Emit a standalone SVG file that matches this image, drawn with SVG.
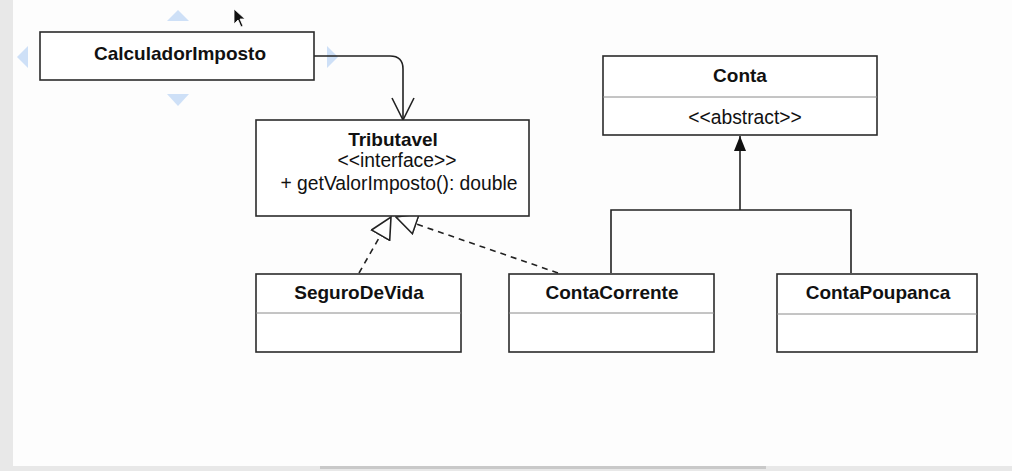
<svg xmlns="http://www.w3.org/2000/svg" width="1012" height="471" viewBox="0 0 1012 471">
  <style>
    .box { fill: #ffffff; stroke: #2b2b2b; stroke-width: 1.6; }
    .div { stroke: #8a8a8a; stroke-width: 1; fill: none; }
    .b { font-family: "Liberation Sans", Arial, sans-serif; font-weight: bold; font-size: 19px; fill: #111; text-anchor: middle; }
    .r { font-family: "Liberation Sans", Arial, sans-serif; font-size: 19.3px; fill: #111; text-anchor: middle; }
    .edge { fill: none; stroke: #222; stroke-width: 1.6; }
    .dash { fill: none; stroke: #222; stroke-width: 1.6; stroke-dasharray: 6 5; }
    .sel { fill: #c6dbf6; opacity: 0.85; }
  </style>
  <defs>
    <marker id="hollowTri" viewBox="0 0 23 23" refX="22" refY="11.5" markerWidth="23" markerHeight="23" markerUnits="userSpaceOnUse" orient="auto">
      <path d="M1,1 L22,11.5 L1,22 Z" fill="#ffffff" stroke="#222" stroke-width="1.6"/>
    </marker>
    <marker id="filledTri" viewBox="0 0 16 14" refX="15" refY="7" markerWidth="16" markerHeight="14" markerUnits="userSpaceOnUse" orient="auto">
      <path d="M0,1 L15,7 L0,13 Z" fill="#111"/>
    </marker>
  </defs>

  <!-- background -->
  <rect x="0" y="0" width="1012" height="471" fill="#fdfdfd"/>
  <rect x="0" y="0" width="13" height="471" fill="#e8e8e8"/>
  <rect x="0" y="466" width="1012" height="5" fill="#e8e8e8"/>
  <rect x="320" y="466" width="446" height="3" fill="#c9c9c9"/>

  <!-- selection handles -->
  <g id="selection-handles">
    <polygon class="sel" points="178,10 189,21 167,21"/>
    <polygon class="sel" points="178,106 189,94 167,94"/>
    <polygon class="sel" points="17,57 28,46 28,68"/>
    <polygon class="sel" points="338,57 327,46 327,68"/>
  </g>

  <!-- connectors -->
  <g id="connectors">
    <path class="edge" d="M314,56 H390 Q403,56 403,69 V119"/>
    <path class="edge" d="M392,98 L403,120 L414,98"/>
    <line class="dash" x1="359" y1="273" x2="391" y2="217" marker-end="url(#hollowTri)"/>
    <line class="dash" x1="558" y1="273" x2="396" y2="217" marker-end="url(#hollowTri)"/>
    <path class="edge" d="M611,273 V210 H851 V273"/>
    <line class="edge" x1="740" y1="210" x2="740" y2="136" marker-end="url(#filledTri)"/>
  </g>

  <g id="CalculadorImposto">
    <rect class="box" x="40" y="32" width="274" height="48"/>
    <text class="b" x="180" y="60">CalculadorImposto</text>
  </g>

  <g id="Tributavel">
    <rect class="box" x="256" y="120" width="273" height="96"/>
    <text class="b" x="393" y="146">Tributavel</text>
    <text class="r" x="397" y="167">&lt;&lt;interface&gt;&gt;</text>
    <text class="r" x="399" y="190">+ getValorImposto(): double</text>
  </g>

  <g id="Conta">
    <rect class="box" x="603" y="56" width="274" height="79"/>
    <line class="div" x1="603" y1="97" x2="877" y2="97"/>
    <text class="b" x="740" y="82">Conta</text>
    <text class="r" x="745" y="124">&lt;&lt;abstract&gt;&gt;</text>
  </g>

  <g id="SeguroDeVida">
    <rect class="box" x="256" y="274" width="205" height="78"/>
    <line class="div" x1="256" y1="313" x2="461" y2="313"/>
    <text class="b" x="359" y="299">SeguroDeVida</text>
  </g>

  <g id="ContaCorrente">
    <rect class="box" x="509" y="274" width="205" height="78"/>
    <line class="div" x1="509" y1="313" x2="714" y2="313"/>
    <text class="b" x="612" y="299">ContaCorrente</text>
  </g>

  <g id="ContaPoupanca">
    <rect class="box" x="777" y="274" width="200" height="78"/>
    <line class="div" x1="777" y1="314" x2="977" y2="314"/>
    <text class="b" x="878" y="299">ContaPoupanca</text>
  </g>

  <!-- mouse cursor -->
  <path d="M234,9 L234,24 L238,20 L241,27 L243,26 L240,19 L245,19 Z" fill="#111" stroke="#fff" stroke-width="0.8"/>
</svg>
